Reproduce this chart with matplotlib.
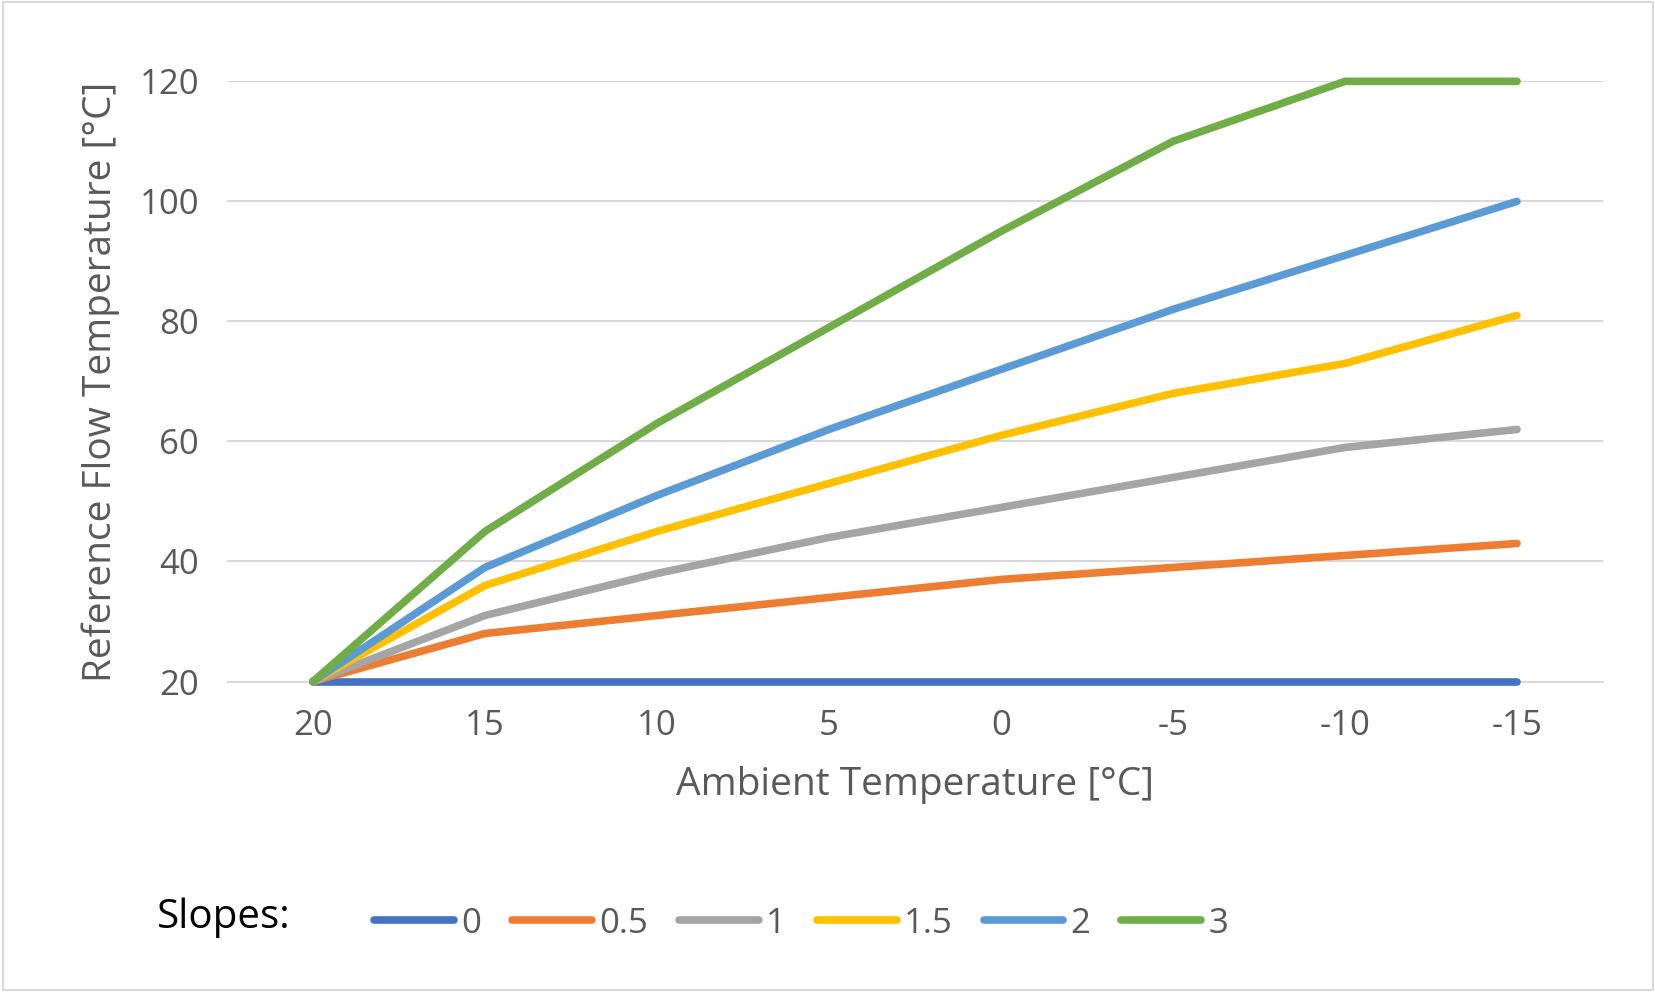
import matplotlib
matplotlib.use("Agg")
import matplotlib.pyplot as plt

ambient = ["20", "15", "10", "5", "0", "-5", "-10", "-15"]
slope_labels = ["0", "0.5", "1", "1.5", "2", "3"]
s0 = [20, 20, 20, 20, 20, 20, 20, 20]
s05 = [20, 28, 31, 34, 37, 39, 41, 43]
s1 = [20, 31, 38, 44, 49, 54, 59, 62]
s15 = [20, 36, 45, 53, 61, 68, 73, 81]
s2 = [20, 39, 51, 62, 72, 82, 91, 100]
s3 = [20, 45, 63, 79, 95, 110, 120, 120]
series = [s0, s05, s1, s15, s2, s3]
colors = ["#4472C4", "#ED7D31", "#A5A5A5", "#FFC000", "#5B9BD5", "#70AD47"]

plt.rcParams['font.family'] = ['Open Sans', 'DejaVu Sans']
fig = plt.figure(figsize=(16.56, 9.92), dpi=100)
fig.patches.append(plt.Rectangle((0.002, 0.002), 0.996, 0.996, transform=fig.transFigure,
                                 fill=False, edgecolor="#D9D9D9", linewidth=1.5))
ax = fig.add_axes([0.137, 0.313, 0.831, 0.605])
x = list(range(len(ambient)))
for lab, ys, c in zip(slope_labels, series, colors):
    ax.plot(x, ys, color=c, linewidth=5.5, label=lab, solid_capstyle="round", clip_on=False, zorder=3)
ax.set_xlim(-0.5, 7.5)
ax.set_ylim(20, 120)
ax.set_yticks(range(20, 121, 20))
ax.set_xticks(x)
ax.set_xticklabels(ambient)
ax.grid(axis="y", color="#D9D9D9", linewidth=1.5)
for s in ax.spines.values():
    s.set_visible(False)
ax.spines["bottom"].set_visible(True)
ax.spines["bottom"].set_color("#D9D9D9")
ax.tick_params(length=0, labelsize=25, labelcolor="#595959", pad=20)
ax.set_xlabel("Ambient Temperature [°C]", fontsize=28, color="#595959", labelpad=16)
ax.set_ylabel("Reference Flow Temperature [°C]", fontsize=28, color="#595959", labelpad=14)

fig.text(0.095, 0.075, "Slopes:", fontsize=29, color="black", va="center")
leg = fig.legend(loc="center left", bbox_to_anchor=(0.207, 0.069), ncol=6, frameon=False,
                 fontsize=25, handlelength=2.3, handletextpad=0.2, columnspacing=0.9)
for t in leg.get_texts():
    t.set_color("#595959")
fig.savefig("out.png", dpi=100)
